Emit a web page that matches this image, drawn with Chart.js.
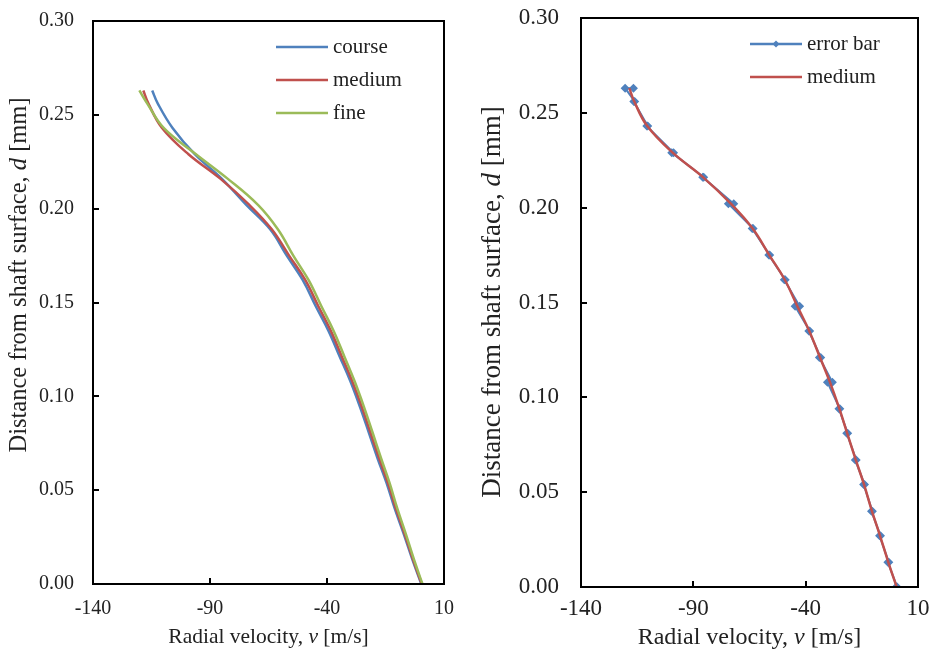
<!DOCTYPE html>
<html>
<head>
<meta charset="utf-8">
<script src="https://cdn.jsdelivr.net/npm/chart.js@4.4.0/dist/chart.umd.min.js"></script>
<style>
  body { margin: 0; background: #fff; }
  canvas { position: absolute; top: 0; }
  #chartLeft { left: 0; }
  #chartRight { left: 465px; }
</style>
</head>
<body>
<canvas id="chartLeft" width="460" height="654"></canvas>
<canvas id="chartRight" width="465" height="654"></canvas>
<script>
// distance from shaft surface d [mm]
const depth = [0, 0.013, 0.027, 0.040, 0.054, 0.067, 0.081, 0.094, 0.108, 0.121, 0.135,
  0.148, 0.162, 0.175, 0.189, 0.202, 0.216, 0.229, 0.243, 0.256, 0.263];

// radial velocity v [m/s] for each mesh
const courseV = [0.3, -3.5, -7.3, -11.0, -14.6, -18.4, -22.2, -25.8, -30.0, -34.5, -39.4,
  -44.8, -50.4, -57.2, -64.3, -74.5, -85.0, -96.5, -106.0, -112.3, -114.7];
const mediumV = [0.5, -3.2, -6.9, -10.5, -14.0, -17.7, -21.5, -25.0, -29.2, -33.6, -38.4,
  -43.7, -49.3, -56.2, -63.6, -73.2, -85.6, -99.2, -110.5, -116.3, -118.5];
const fineV = [0.8, -2.8, -6.4, -9.9, -13.3, -16.9, -20.6, -24.1, -28.2, -32.5, -37.2,
  -42.4, -47.9, -54.4, -61.0, -69.5, -82.5, -96.0, -109.8, -116.8, -120.2];

// half width of the error bar at each depth
const errHalf = [0.2, 0.2, 0.2, 0.2, 0.2, 0.2, 0.2, 0.2, 1.1, 0.3, 0.2,
  1.0, 0.2, 0.2, 0.2, 1.2, 0.2, 0.4, 0.2, 0.2, 1.85];

const xTicks = [-140, -90, -40, 10];
const yTicks = [0, 0.05, 0.10, 0.15, 0.20, 0.25, 0.30];

const BLUE = "#4F81BD";
const RED = "#C0504D";
const GREEN = "#9BBB59";
const SERIF = "'Liberation Serif', 'Times New Roman', serif";
const TEXT = "#222";

const xTitleParts = [["Radial velocity, ", false], ["v", true], [" [m/s]", false]];
const yTitleParts = [["Distance from shaft surface, ", false], ["d", true], [" [mm]", false]];

function toPoints(values) {
  return values.map((v, i) => ({ x: v, y: depth[i] }));
}

function errorPoints() {
  const out = [];
  mediumV.forEach((v, i) => {
    out.push({ x: v - errHalf[i], y: depth[i] });
    out.push({ x: v + errHalf[i], y: depth[i] });
  });
  return out;
}

function drawRich(ctx, parts, size, cx, cy) {
  const fonts = parts.map((p) => (p[1] ? "italic " : "") + size + "px " + SERIF);
  let total = 0;
  const widths = parts.map((p, i) => {
    ctx.font = fonts[i];
    const w = ctx.measureText(p[0]).width;
    total += w;
    return w;
  });
  let x = cx - total / 2;
  ctx.textBaseline = "middle";
  ctx.textAlign = "left";
  parts.forEach((p, i) => {
    ctx.font = fonts[i];
    ctx.fillText(p[0], x, cy);
    x += widths[i];
  });
}

function diamond(ctx, x, y, r) {
  ctx.beginPath();
  ctx.moveTo(x, y - r);
  ctx.lineTo(x + r, y);
  ctx.lineTo(x, y + r);
  ctx.lineTo(x - r, y);
  ctx.closePath();
  ctx.fill();
}

// box, inward ticks, axis titles and legend
const framePlugin = {
  id: "frame",
  afterDraw(chart, args, opts) {
    const { ctx, chartArea: a, scales } = chart;
    ctx.save();
    ctx.strokeStyle = "#000";
    ctx.lineWidth = 2;
    ctx.strokeRect(a.left, a.top, a.right - a.left, a.bottom - a.top);
    ctx.beginPath();
    scales.x.ticks.forEach((t) => {
      const px = Math.round(scales.x.getPixelForValue(t.value));
      ctx.moveTo(px, a.bottom);
      ctx.lineTo(px, a.bottom - 6);
    });
    scales.y.ticks.forEach((t) => {
      const py = Math.round(scales.y.getPixelForValue(t.value));
      ctx.moveTo(a.left, py);
      ctx.lineTo(a.left + 6, py);
    });
    ctx.stroke();

    ctx.fillStyle = TEXT;
    drawRich(ctx, xTitleParts, opts.xTitleSize, (a.left + a.right) / 2, opts.xTitleY);
    ctx.save();
    ctx.translate(opts.yTitleX, opts.yTitleY);
    ctx.rotate(-Math.PI / 2);
    drawRich(ctx, yTitleParts, opts.yTitleSize, 0, 0);
    ctx.restore();

    const lg = opts.legend;
    lg.items.forEach((item, i) => {
      const y = lg.y + i * lg.step;
      ctx.strokeStyle = item.color;
      ctx.lineWidth = 2.5;
      ctx.beginPath();
      ctx.moveTo(lg.x0, y);
      ctx.lineTo(lg.x1, y);
      ctx.stroke();
      if (item.marker) {
        ctx.fillStyle = item.color;
        diamond(ctx, (lg.x0 + lg.x1) / 2, y, 3.5);
      }
      ctx.fillStyle = TEXT;
      ctx.font = lg.size + "px " + SERIF;
      ctx.textAlign = "left";
      ctx.textBaseline = "middle";
      ctx.fillText(item.label, lg.x1 + 5, y);
    });
    ctx.restore();
  },
};

function makeScales(tickSize, yWidth, xHeight, yPad, xPad) {
  return {
    x: {
      type: "linear",
      min: -140,
      max: 10,
      afterBuildTicks: (s) => { s.ticks = xTicks.map((v) => ({ value: v })); },
      afterFit: (s) => {
        s.height = xHeight;
        s.paddingLeft = 0;
        s.paddingRight = 0;
      },
      grid: { display: false },
      border: { display: false },
      ticks: {
        autoSkip: false,
        maxRotation: 0,
        padding: xPad,
        color: TEXT,
        font: { family: SERIF, size: tickSize },
      },
    },
    y: {
      type: "linear",
      min: 0,
      max: 0.3,
      afterBuildTicks: (s) => { s.ticks = yTicks.map((v) => ({ value: v })); },
      afterFit: (s) => {
        s.width = yWidth;
        s.paddingTop = 0;
        s.paddingBottom = 0;
      },
      grid: { display: false },
      border: { display: false },
      ticks: {
        autoSkip: false,
        padding: yPad,
        color: TEXT,
        font: { family: SERIF, size: tickSize },
        callback: (v) => Number(v).toFixed(2),
      },
    },
  };
}

function lineSet(label, values, color, order) {
  return {
    label: label,
    data: toPoints(values),
    borderColor: color,
    backgroundColor: color,
    borderWidth: 2.5,
    pointRadius: 0,
    showLine: true,
    tension: 0.4,
    order: order,
  };
}

new Chart(document.getElementById("chartLeft"), {
  type: "scatter",
  data: {
    datasets: [
      lineSet("course", courseV, BLUE, 3),
      lineSet("medium", mediumV, RED, 2),
      lineSet("fine", fineV, GREEN, 1),
    ],
  },
  options: {
    responsive: false,
    animation: false,
    layout: { padding: { top: 21, right: 16, bottom: 0, left: 0 } },
    scales: makeScales(20, 93, 70, 11, 5),
    plugins: {
      legend: { display: false },
      tooltip: { enabled: false },
      frame: {
        xTitleSize: 21.5,
        yTitleSize: 24.5,
        xTitleY: 637,
        yTitleX: 20,
        yTitleY: 275,
        legend: {
          x0: 276, x1: 328, y: 47, step: 33, size: 21,
          items: [
            { label: "course", color: BLUE },
            { label: "medium", color: RED },
            { label: "fine", color: GREEN },
          ],
        },
      },
    },
  },
  plugins: [framePlugin],
});

new Chart(document.getElementById("chartRight"), {
  type: "scatter",
  data: {
    datasets: [
      {
        label: "error bar",
        data: errorPoints(),
        borderColor: BLUE,
        backgroundColor: BLUE,
        borderWidth: 2,
        showLine: true,
        tension: 0,
        pointStyle: "rectRot",
        pointRadius: 4.5,
        pointBorderWidth: 0,
        order: 2,
      },
      lineSet("medium", mediumV, RED, 1),
    ],
  },
  options: {
    responsive: false,
    animation: false,
    layout: { padding: { top: 18, right: 12, bottom: 0, left: 0 } },
    scales: makeScales(23, 116, 67, 14, 0),
    plugins: {
      legend: { display: false },
      tooltip: { enabled: false },
      frame: {
        xTitleSize: 24,
        yTitleSize: 27,
        xTitleY: 638,
        yTitleX: 28,
        yTitleY: 302,
        legend: {
          x0: 285, x1: 337, y: 44, step: 33, size: 21,
          items: [
            { label: "error bar", color: BLUE, marker: true },
            { label: "medium", color: RED },
          ],
        },
      },
    },
  },
  plugins: [framePlugin],
});
</script>
</body>
</html>
